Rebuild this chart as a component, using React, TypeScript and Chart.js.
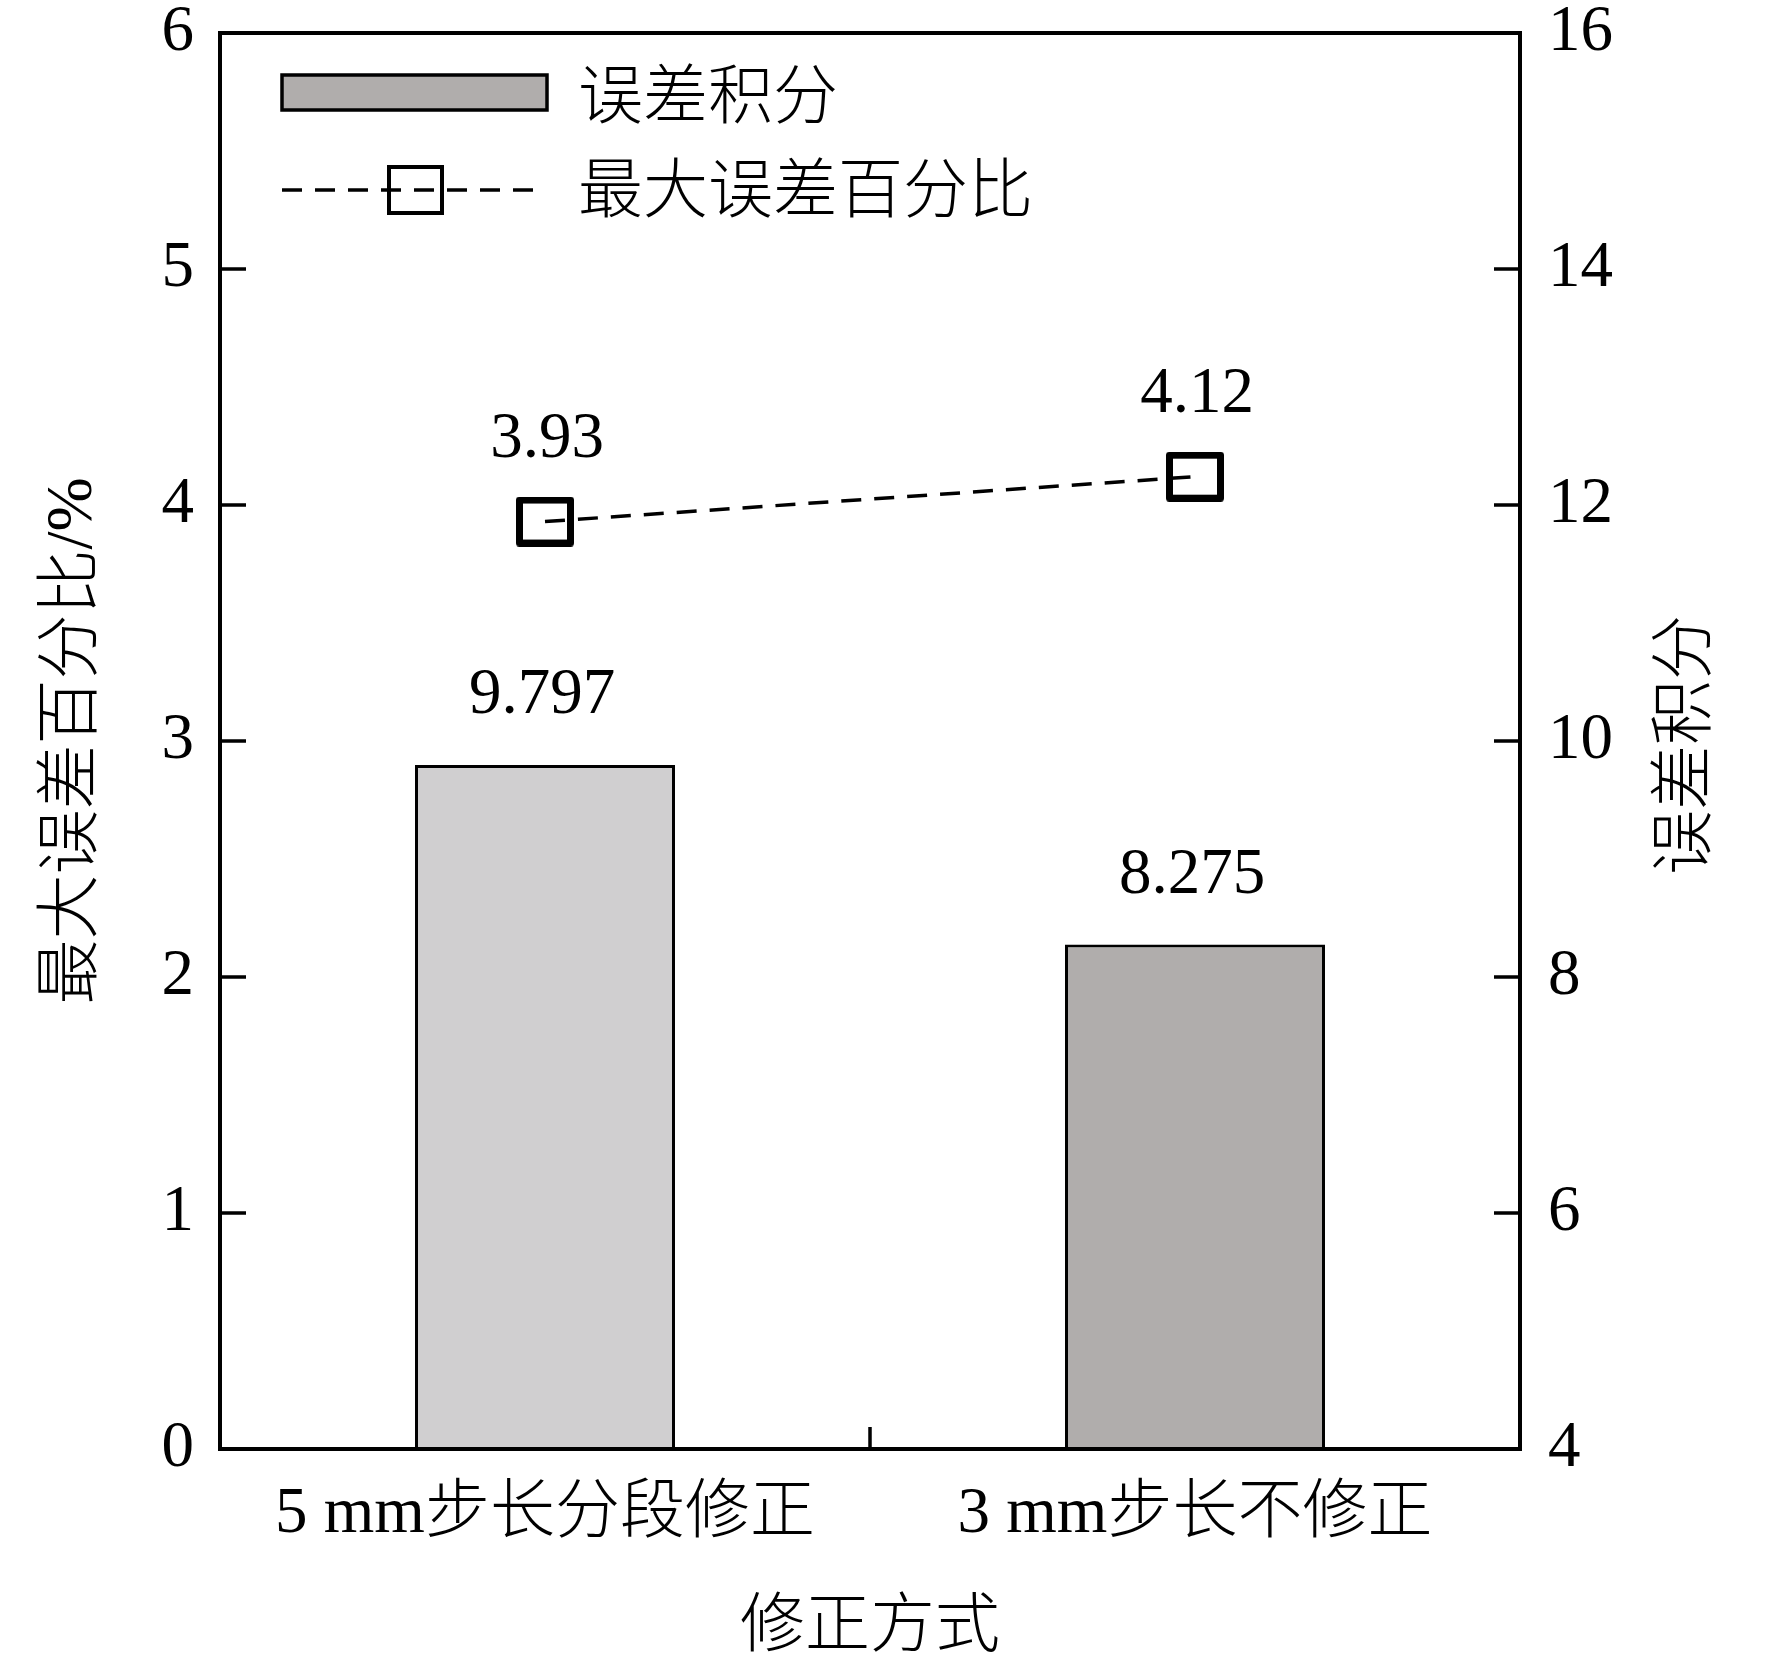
import { useEffect, useRef } from "react";
import { Chart, registerables } from "chart.js";

Chart.register(...registerables);

const categories = ["5 mm步长分段修正", "3 mm步长不修正"];
const errorIntegral = [9.797, 8.275];
const maxErrorPercent = [3.93, 4.12];
const barColors = ["#d0cfd0", "#b0adac"];
const leftTicks = [0, 1, 2, 3, 4, 5, 6];
const rightTicks = [4, 6, 8, 10, 12, 14, 16];

const FONT = '"Liberation Serif", "Noto Sans CJK SC", serif';
const FONT_SIZE = 65;
const FONT_WEIGHT = 300;

function makeMarker(w: number, h: number, lw: number) {
  const c = document.createElement("canvas");
  c.width = w;
  c.height = h;
  const ctx = c.getContext("2d")!;
  ctx.strokeStyle = "#000";
  ctx.lineWidth = lw;
  ctx.lineJoin = "round";
  ctx.strokeRect(lw / 2, lw / 2, w - lw, h - lw);
  return c;
}

// frame, inward ticks, value labels, right title and legend
const decorPlugin = {
  id: "decor",
  afterDatasetsDraw(chart: any) {
    const { ctx } = chart;
    ctx.save();
    ctx.font = `${FONT_WEIGHT} ${FONT_SIZE}px ${FONT}`;
    ctx.fillStyle = "#000";
    ctx.textAlign = "center";
    ctx.textBaseline = "alphabetic";
    chart.getDatasetMeta(0).data.forEach((el: any, i: number) => {
      ctx.fillText(String(errorIntegral[i]), el.x - 3, el.y - 52);
    });
    chart.getDatasetMeta(1).data.forEach((el: any, i: number) => {
      ctx.fillText(String(maxErrorPercent[i]), el.x + 2, el.y - 65);
    });
    ctx.restore();
  },
  afterDraw(chart: any) {
    const { ctx, chartArea: a, scales } = chart;
    ctx.save();
    ctx.strokeStyle = "#000";
    ctx.lineWidth = 4;
    ctx.lineJoin = "miter";
    ctx.strokeRect(a.left, a.top, a.right - a.left, a.bottom - a.top);

    // inward tick marks
    ctx.lineWidth = 3.5;
    ctx.beginPath();
    scales.y.ticks.forEach((t: any) => {
      const y = scales.y.getPixelForValue(t.value);
      ctx.moveTo(a.left, y);
      ctx.lineTo(a.left + 26, y);
    });
    scales.y1.ticks.forEach((t: any) => {
      const y = scales.y1.getPixelForValue(t.value);
      ctx.moveTo(a.right, y);
      ctx.lineTo(a.right - 26, y);
    });
    const mid = (scales.x.getPixelForValue(0) + scales.x.getPixelForValue(1)) / 2;
    ctx.moveTo(mid, a.bottom);
    ctx.lineTo(mid, a.bottom - 22);
    ctx.stroke();

    // right axis title, reading bottom to top
    ctx.font = `${FONT_WEIGHT} ${FONT_SIZE}px ${FONT}`;
    ctx.fillStyle = "#000";
    ctx.textAlign = "center";
    ctx.textBaseline = "middle";
    ctx.save();
    ctx.translate(a.right + 168, (a.top + a.bottom) / 2 + 4);
    ctx.rotate(-Math.PI / 2);
    ctx.fillText("误差积分", 0, 0);
    ctx.restore();

    // legend
    const lx = a.left + 62;
    ctx.fillStyle = barColors[1];
    ctx.fillRect(lx, a.top + 42, 265, 35);
    ctx.lineWidth = 3.5;
    ctx.strokeRect(lx, a.top + 42, 265, 35);

    const ly = a.top + 157;
    ctx.setLineDash([20, 13]);
    ctx.beginPath();
    ctx.moveTo(lx, ly);
    ctx.lineTo(lx + 253, ly);
    ctx.stroke();
    ctx.setLineDash([]);
    ctx.lineWidth = 4;
    ctx.strokeRect(lx + 107, ly - 23, 53, 46);

    ctx.fillStyle = "#000";
    ctx.textAlign = "left";
    ctx.fillText("误差积分", lx + 296, a.top + 68);
    ctx.fillText("最大误差百分比", lx + 296, a.top + 162);
    ctx.restore();
  },
};

export default function App() {
  const canvasRef = useRef<HTMLCanvasElement>(null);

  useEffect(() => {
    document.body.style.margin = "0";
    if (!canvasRef.current) return;

    const marker = makeMarker(58, 50, 7);
    const tickFont = { size: FONT_SIZE, family: FONT, weight: FONT_WEIGHT, lineHeight: 1 };

    const chart = new Chart(canvasRef.current, {
      type: "bar",
      data: {
        labels: categories,
        datasets: [
          {
            type: "bar",
            label: "误差积分",
            data: errorIntegral,
            yAxisID: "y1",
            backgroundColor: barColors,
            borderColor: "#000",
            borderWidth: 3,
            categoryPercentage: 1,
            barPercentage: 0.4,
          },
          {
            type: "line",
            label: "最大误差百分比",
            data: maxErrorPercent,
            yAxisID: "y",
            borderColor: "#000",
            borderWidth: 3.5,
            borderDash: [20, 13],
            backgroundColor: "transparent",
            fill: false,
            pointStyle: marker,
            pointRadius: 25,
          },
        ],
      } as any,
      options: {
        animation: false,
        responsive: false,
        devicePixelRatio: 1,
        layout: { padding: { top: 33, left: 0, right: 0, bottom: 0 } },
        plugins: {
          legend: { display: false },
          tooltip: { enabled: false },
        },
        scales: {
          x: {
            grid: { display: false, drawTicks: false },
            border: { display: false },
            ticks: {
              font: tickFont,
              color: "#000",
              padding: 33,
              maxRotation: 0,
              autoSkip: false,
            },
            title: {
              display: true,
              text: "修正方式",
              color: "#000",
              font: tickFont,
              padding: { top: 0, bottom: 4 },
            },
            afterFit: (s: any) => {
              s.height = 216;
              s.paddingLeft = 0;
              s.paddingRight = 0;
            },
          },
          y: {
            position: "left",
            min: leftTicks[0],
            max: leftTicks[leftTicks.length - 1],
            grid: { display: false, drawTicks: false },
            border: { display: false },
            ticks: {
              stepSize: leftTicks[1] - leftTicks[0],
              font: tickFont,
              color: "#000",
              padding: 26,
            },
            title: {
              display: true,
              text: "最大误差百分比/%",
              color: "#000",
              font: tickFont,
              padding: { top: 41, bottom: 0 },
            },
            afterFit: (s: any) => {
              s.width = 220;
              s.paddingTop = 0;
              s.paddingBottom = 0;
            },
          },
          y1: {
            position: "right",
            min: rightTicks[0],
            max: rightTicks[rightTicks.length - 1],
            grid: { display: false, drawTicks: false },
            border: { display: false },
            ticks: {
              stepSize: rightTicks[1] - rightTicks[0],
              font: tickFont,
              color: "#000",
              padding: 28,
            },
            afterFit: (s: any) => {
              s.width = 252;
              s.paddingTop = 0;
              s.paddingBottom = 0;
            },
          },
        },
      } as any,
      plugins: [decorPlugin],
    });

    return () => chart.destroy();
  }, []);

  return (
    <div style={{ width: 1772, height: 1665, background: "#fff" }}>
      <canvas ref={canvasRef} width={1772} height={1665} style={{ display: "block" }} />
    </div>
  );
}
